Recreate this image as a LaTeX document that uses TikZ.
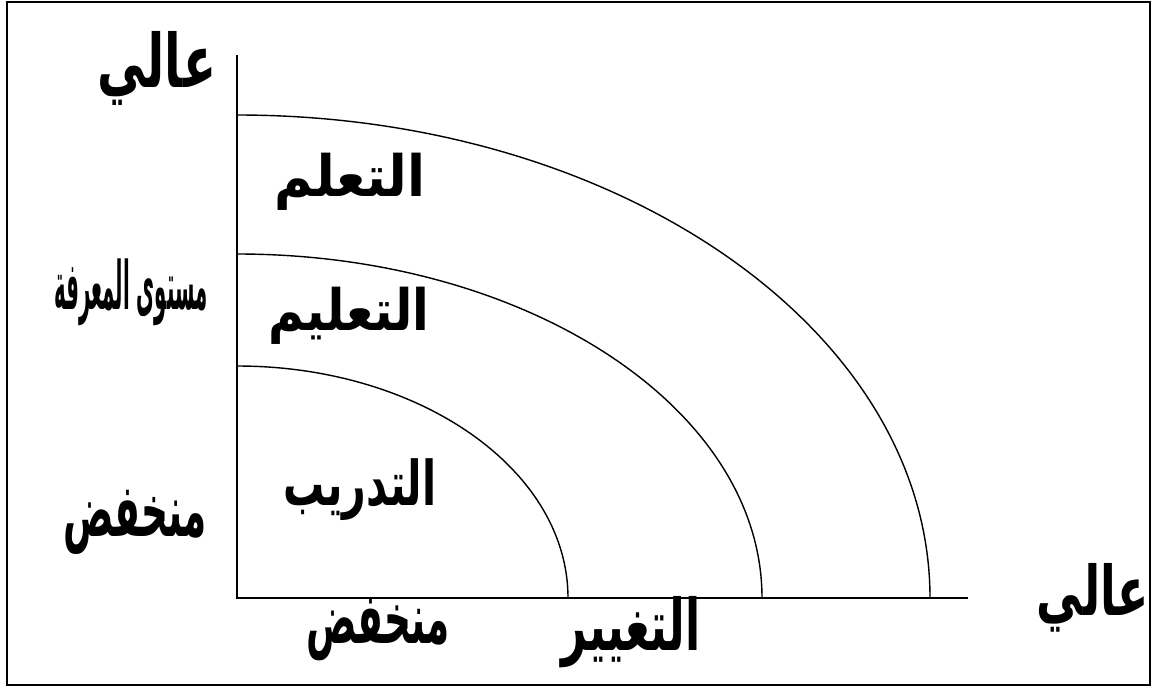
\documentclass[tikz,border=0pt]{standalone}
\usepackage{fontspec}
\TeXXeTstate=1
\newfontfamily\arabicfont[Script=Arabic]{DejaVu Sans}
\newcommand{\arsc}[3]{\scalebox{#1}[#2]{\arabicfont\bfseries #3}}
\begin{document}
\begin{tikzpicture}[x=0.02cm,y=-0.02cm,
  lbl/.style={inner sep=0pt,font=\fontsize{26}{28}\selectfont},
  big/.style={inner sep=0pt,font=\fontsize{30}{32}\selectfont},
  arcline/.style={line width=0.8pt},
  axis/.style={line width=0.9pt}]
\useasboundingbox (0,0) rectangle (1166,696);
\draw[line width=1pt] (7,2) rectangle (1150,685);
\coordinate (O) at (237,598);
\coordinate (ytop) at (237,55);
\coordinate (xend) at (968,598);
\draw[axis] (ytop) -- (O) -- (xend);
% arcs
\draw[arcline] (237,115) arc[start angle=90,end angle=0,x radius=693,y radius=-483];
\draw[arcline] (237,254) arc[start angle=90,end angle=0,x radius=525,y radius=-344];
\draw[arcline] (237,366) arc[start angle=90,end angle=0,x radius=331,y radius=-232];
% labels
\node[big] (yhigh) at (157,68) {\arsc{0.92}{1.4}{\beginR عالي\endR}};
\node[lbl] (learn) at (350,182) {\arsc{1.15}{1.25}{\beginR التعلم\endR}};
\node[lbl] (teach) at (349,316) {\arsc{1.07}{1.25}{\beginR التعليم\endR}};
\node[lbl] (train) at (360,490) {\arsc{0.9}{1.35}{\beginR التدريب\endR}};
\node[inner sep=0pt] (know) at (131,292) {\fontsize{20}{22}\selectfont\arsc{0.56}{1.9}{\beginR مستوى المعرفة\endR}};
\node[big] (ylow) at (135,522) {\arsc{0.71}{1.4}{\beginR منخفض\endR}};
\node[big] (xlow) at (378,630) {\arsc{0.71}{1.35}{\beginR منخفض\endR}};
\node[big] (change) at (631,632) {\arsc{0.84}{1.35}{\beginR التغيير\endR}};
\node[big] (xhigh) at (1093,598) {\arsc{0.87}{1.3}{\beginR عالي\endR}};
\end{tikzpicture}
\end{document}
